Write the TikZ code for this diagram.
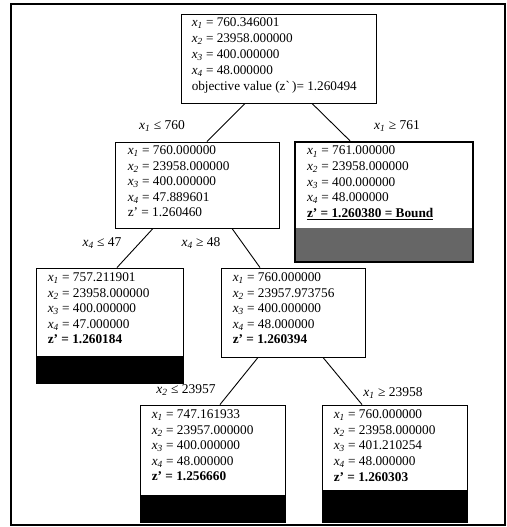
\documentclass[tikz,border=0pt]{standalone}
\usepackage{fontspec}
\setmainfont{Liberation Serif}
\newcommand\xsub[1]{\textit{x}\textsubscript{\textit{#1}}}
\begin{document}
\begin{tikzpicture}[x=1pt,y=-1pt,
  box/.style={draw, line width=0.9pt, inner sep=0pt, fill=white},
  bar/.style 2 args={path picture={\fill[#2] ([yshift=#1]path picture bounding box.south west) rectangle (path picture bounding box.south east);}},
  txt/.style={anchor=north west, inner sep=0pt, align=left, font=\fontsize{13.3}{15.6}\selectfont},
  rtxt/.style={anchor=north west, inner sep=0pt, align=left, font=\fontsize{13.2}{16}\selectfont},
  lbl/.style={inner sep=0pt, font=\fontsize{13.5}{15}\selectfont},
  edge/.style={line width=0.9pt}]
\useasboundingbox (0,0) rectangle (506,527);
\draw[line width=1.4pt] (11,4) rectangle (505,525);
% boxes
\node[box, minimum width=195pt, minimum height=89pt] (n0) at (278.5,58.5) {};
\node[box, minimum width=164pt, minimum height=86pt] (n1) at (197,185) {};
\node[box, line width=2.4pt, bar={34pt}{black!60}, minimum width=178pt, minimum height=120pt] (n2) at (384,202) {};
\node[box, bar={27pt}{black}, minimum width=147pt, minimum height=115pt] (n3) at (109.5,325.5) {};
\node[box, minimum width=144pt, minimum height=89pt] (n4) at (293,312.5) {};
\node[box, bar={27pt}{black}, minimum width=145pt, minimum height=117pt] (n5) at (212.5,463.5) {};
\node[box, bar={32pt}{black}, minimum width=145pt, minimum height=117pt] (n6) at (394.5,463.5) {};
% texts
\node[rtxt] (t0) at ([xshift=11pt,yshift=-4pt]n0.north west) {\xsub{1} = 760.346001\\ \xsub{2} = 23958.000000\\ \xsub{3} = 400.000000\\ \xsub{4} = 48.000000\\ objective value (z\textasciigrave\,)= 1.260494};
\node[txt] (t1) at ([xshift=13pt,yshift=-4pt]n1.north west) {\xsub{1} = 760.000000\\ \xsub{2} = 23958.000000\\ \xsub{3} = 400.000000\\ \xsub{4} = 47.889601\\ z' = 1.260460};
\node[txt] (t2) at ([xshift=13pt,yshift=-5pt]n2.north west) {\xsub{1} = 761.000000\\ \xsub{2} = 23958.000000\\ \xsub{3} = 400.000000\\ \xsub{4} = 48.000000\\ \underline{\textbf{z' = 1.260380 = Bound}}};
\node[txt] (t3) at ([xshift=12pt,yshift=-5pt]n3.north west) {\xsub{1} = 757.211901\\ \xsub{2} = 23958.000000\\ \xsub{3} = 400.000000\\ \xsub{4} = 47.000000\\ \textbf{z' = 1.260184}};
\node[txt] (t4) at ([xshift=12pt,yshift=-5pt]n4.north west) {\xsub{1} = 760.000000\\ \xsub{2} = 23957.973756\\ \xsub{3} = 400.000000\\ \xsub{4} = 48.000000\\ \textbf{z' = 1.260394}};
\node[txt] (t5) at ([xshift=12pt,yshift=-5pt]n5.north west) {\xsub{1} = 747.161933\\ \xsub{2} = 23957.000000\\ \xsub{3} = 400.000000\\ \xsub{4} = 48.000000\\ \textbf{z' = 1.256660}};
\node[txt] (t6) at ([xshift=12pt,yshift=-5pt]n6.north west) {\xsub{1} = 760.000000\\ \xsub{2} = 23958.000000\\ \xsub{3} = 401.210254\\ \xsub{4} = 48.000000\\ \textbf{z' = 1.260303}};
% edges
\draw[edge] ([xshift=-33.5pt]n0.south) -- ([xshift=10pt]n1.north);
\draw[edge] ([xshift=33.5pt]n0.south) -- ([xshift=-34pt]n2.north);
\draw[edge] ([xshift=-44pt]n1.south) -- ([xshift=7.5pt]n3.north);
\draw[edge] ([xshift=35pt]n1.south) -- ([xshift=-33pt]n4.north);
\draw[edge] ([xshift=-35pt]n4.south) -- ([xshift=7.5pt]n5.north);
\draw[edge] ([xshift=30pt]n4.south) -- ([xshift=-32.5pt]n6.north);
% labels
\node[lbl] (l1) at (162,126) {\xsub{1} ≤ 760};
\node[lbl] (l2) at (397,126) {\xsub{1} ≥ 761};
\node[lbl] (l3) at (102,243) {\xsub{4} ≤ 47};
\node[lbl] (l4) at (201,243) {\xsub{4} ≥ 48};
\node[lbl] (l5) at (186,390) {\xsub{2} ≤ 23957};
\node[lbl] (l6) at (393,393) {\xsub{1} ≥ 23958};
\end{tikzpicture}
\end{document}
